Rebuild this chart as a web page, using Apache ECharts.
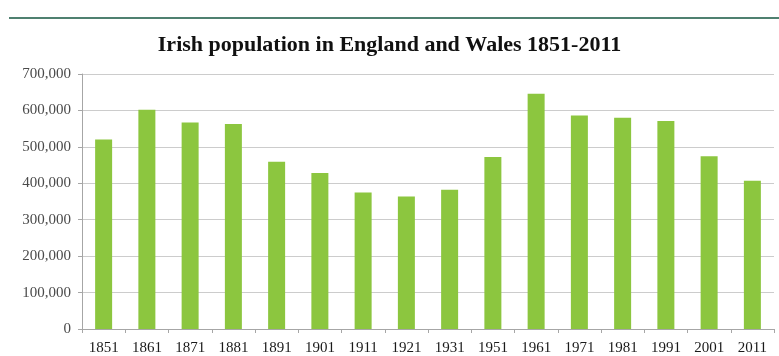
<!DOCTYPE html>
<html>
<head>
<meta charset="utf-8">
<script src="https://cdn.jsdelivr.net/npm/echarts@6/dist/echarts.min.js"></script>
<style>
  html, body { margin: 0; padding: 0; background: #fff; }
  #chart { width: 779px; height: 356px; }
</style>
</head>
<body>
<div id="chart"></div>
<script>
// census years and Irish-born population
const years = ['1851', '1861', '1871', '1881', '1891', '1901', '1911', '1921',
               '1931', '1951', '1961', '1971', '1981', '1991', '2001', '2011'];
const population = [520000, 602000, 567000, 563000, 459000, 428000, 375000, 364000,
                    382000, 472000, 646000, 586000, 580000, 571000, 474000, 407000];
const yTicks = { min: 0, max: 700000, interval: 100000 };

const chart = echarts.init(document.getElementById('chart'));

const option = {
    animation: false,
    backgroundColor: '#fff',
    title: {
        text: 'Irish population in England and Wales 1851-2011',
        left: 'center',
        top: 29,
        textStyle: {
            fontFamily: 'Liberation Serif',
            fontWeight: 'bold',
            fontSize: 22,
            color: '#111'
        }
    },
    graphic: [{
        type: 'line',
        shape: { x1: 9, y1: 18, x2: 779, y2: 18 },
        style: { stroke: '#4f8070', lineWidth: 2 }
    }],
    grid: { left: 82, right: 5, top: 74, bottom: 27 },
    xAxis: {
        type: 'category',
        data: years,
        axisLine: { lineStyle: { color: '#a6a6a6' } },
        axisTick: { show: true, length: 4, lineStyle: { color: '#a6a6a6' } },
        axisLabel: {
            fontFamily: 'Liberation Serif',
            fontSize: 15,
            color: '#1a1a1a',
            margin: 12,
            interval: 0
        }
    },
    yAxis: {
        type: 'value',
        min: yTicks.min,
        max: yTicks.max,
        interval: yTicks.interval,
        axisLine: { show: true, lineStyle: { color: '#a6a6a6' } },
        axisTick: { show: true, length: 4, lineStyle: { color: '#a6a6a6' } },
        splitLine: { lineStyle: { color: '#cccccc' } },
        axisLabel: {
            fontFamily: 'Liberation Serif',
            fontSize: 15,
            color: '#4a4a4a',
            margin: 11,
            formatter: v => v.toLocaleString('en-US')
        }
    },
    series: [{
        type: 'bar',
        data: population,
        barWidth: 17,
        itemStyle: { color: '#8cc63f' }
    }]
};

chart.setOption(option);
</script>
</body>
</html>
